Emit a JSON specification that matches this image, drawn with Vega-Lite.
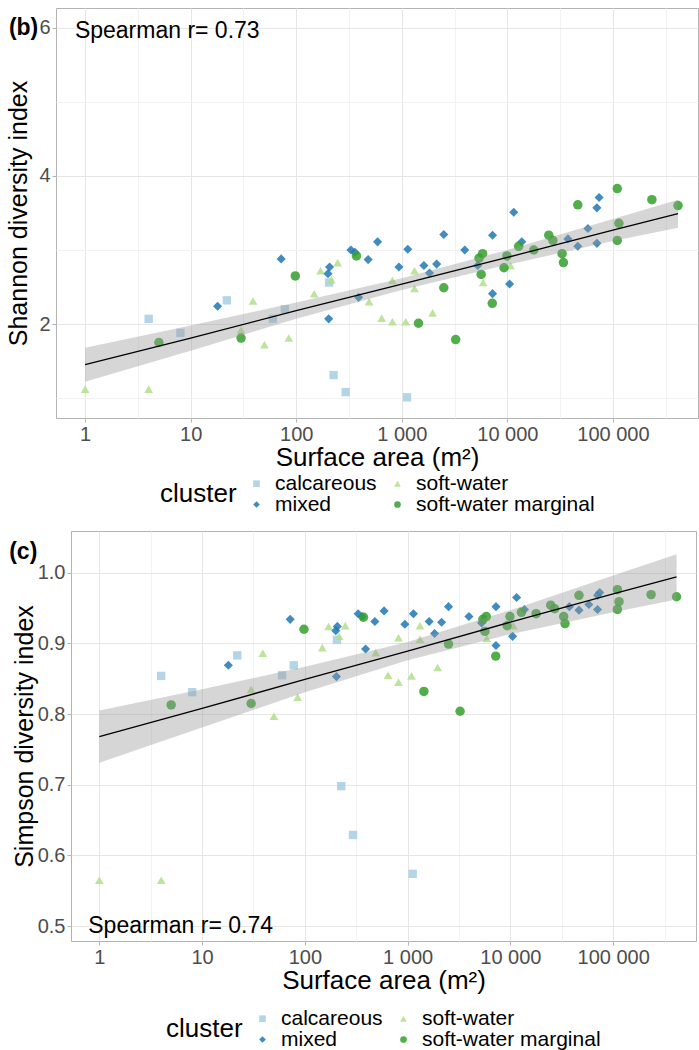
{
  "$schema": "https://vega.github.io/schema/vega-lite/v6.json",
  "background": "white",
  "padding": {"left": 5, "top": 7, "right": 0, "bottom": 0},
  "config": {
    "font": "Liberation Sans",
    "view": {"stroke": "#b3b3b3", "strokeWidth": 1},
    "axis": {"domain": false, "labelFontSize": 20, "labelColor": "#4d4d4d", "titleFontSize": 25, "titleFontWeight": "normal", "titleColor": "black", "tickColor": "#b3b3b3", "tickSize": 4, "labelPadding": 2, "gridWidth": 1},
    "legend": {"orient": "bottom", "direction": "horizontal", "columns": 2, "titleOrient": "left", "titleFontSize": 26, "titleFontWeight": "normal", "titleColor": "black", "labelFontSize": 21, "labelColor": "black", "labelLimit": 0, "symbolSize": 45, "rowPadding": -6, "columnPadding": 10, "titlePadding": 9, "labelOffset": 8, "symbolStrokeWidth": 0, "titleAnchor": "middle", "titleBaseline": "middle", "offset": 3, "layout": {"bottom": {"anchor": "middle"}}}
  },
  "datasets": {
    "lakes": [
      {"area": 4, "cluster": "calcareous", "shannon": 2.07, "simpson": 0.854},
      {"area": 8, "cluster": "calcareous", "shannon": 1.88, "simpson": 0.831},
      {"area": 22, "cluster": "calcareous", "shannon": 2.32, "simpson": 0.883},
      {"area": 60, "cluster": "calcareous", "shannon": 2.07, "simpson": 0.855},
      {"area": 78, "cluster": "calcareous", "shannon": 2.2, "simpson": 0.869},
      {"area": 205, "cluster": "calcareous", "shannon": 2.56, "simpson": 0.905},
      {"area": 226, "cluster": "calcareous", "shannon": 1.31, "simpson": 0.698},
      {"area": 294, "cluster": "calcareous", "shannon": 1.08, "simpson": 0.629},
      {"area": 1120, "cluster": "calcareous", "shannon": 1.01, "simpson": 0.574},
      {"area": 1, "cluster": "soft-water", "shannon": 1.12, "simpson": 0.565},
      {"area": 4, "cluster": "soft-water", "shannon": 1.12, "simpson": 0.565},
      {"area": 30, "cluster": "soft-water", "shannon": 1.92, "simpson": 0.835},
      {"area": 39, "cluster": "soft-water", "shannon": 2.31, "simpson": 0.886},
      {"area": 50, "cluster": "soft-water", "shannon": 1.72, "simpson": 0.797},
      {"area": 85, "cluster": "soft-water", "shannon": 1.81, "simpson": 0.824},
      {"area": 148, "cluster": "soft-water", "shannon": 2.41, "simpson": 0.894},
      {"area": 170, "cluster": "soft-water", "shannon": 2.72, "simpson": 0.924},
      {"area": 215, "cluster": "soft-water", "shannon": 2.6, "simpson": 0.91},
      {"area": 247, "cluster": "soft-water", "shannon": 2.83, "simpson": 0.925},
      {"area": 490, "cluster": "soft-water", "shannon": 2.3, "simpson": 0.887},
      {"area": 645, "cluster": "soft-water", "shannon": 2.08, "simpson": 0.855},
      {"area": 815, "cluster": "soft-water", "shannon": 2.03, "simpson": 0.845},
      {"area": 815, "cluster": "soft-water", "shannon": 2.59, "simpson": 0.908},
      {"area": 1090, "cluster": "soft-water", "shannon": 2.03, "simpson": 0.854},
      {"area": 1320, "cluster": "soft-water", "shannon": 2.72, "simpson": 0.925},
      {"area": 1320, "cluster": "soft-water", "shannon": 2.48, "simpson": 0.906},
      {"area": 1960, "cluster": "soft-water", "shannon": 2.15, "simpson": 0.866},
      {"area": 5900, "cluster": "soft-water", "shannon": 2.56, "simpson": 0.907},
      {"area": 10700, "cluster": "soft-water", "shannon": 2.79, "simpson": 0.925},
      {"area": 18, "cluster": "mixed", "shannon": 2.24, "simpson": 0.869},
      {"area": 72, "cluster": "mixed", "shannon": 2.88, "simpson": 0.934},
      {"area": 200, "cluster": "mixed", "shannon": 2.68, "simpson": 0.918},
      {"area": 207, "cluster": "mixed", "shannon": 2.77, "simpson": 0.924},
      {"area": 203, "cluster": "mixed", "shannon": 2.07, "simpson": 0.853},
      {"area": 330, "cluster": "mixed", "shannon": 3.0, "simpson": 0.942},
      {"area": 360, "cluster": "mixed", "shannon": 2.97, "simpson": 0.938},
      {"area": 390, "cluster": "mixed", "shannon": 2.36, "simpson": 0.892},
      {"area": 480, "cluster": "mixed", "shannon": 2.87, "simpson": 0.931},
      {"area": 590, "cluster": "mixed", "shannon": 3.11, "simpson": 0.946},
      {"area": 940, "cluster": "mixed", "shannon": 2.77, "simpson": 0.927},
      {"area": 1140, "cluster": "mixed", "shannon": 3.01, "simpson": 0.942},
      {"area": 1620, "cluster": "mixed", "shannon": 2.79, "simpson": 0.931},
      {"area": 1830, "cluster": "mixed", "shannon": 2.69, "simpson": 0.914},
      {"area": 2140, "cluster": "mixed", "shannon": 2.81, "simpson": 0.93},
      {"area": 2500, "cluster": "mixed", "shannon": 3.21, "simpson": 0.952},
      {"area": 3950, "cluster": "mixed", "shannon": 3.0, "simpson": 0.938},
      {"area": 5240, "cluster": "mixed", "shannon": 2.79, "simpson": 0.929},
      {"area": 7240, "cluster": "mixed", "shannon": 3.2, "simpson": 0.952},
      {"area": 7240, "cluster": "mixed", "shannon": 2.41, "simpson": 0.897},
      {"area": 10500, "cluster": "mixed", "shannon": 2.54, "simpson": 0.91},
      {"area": 11500, "cluster": "mixed", "shannon": 3.51, "simpson": 0.965},
      {"area": 13700, "cluster": "mixed", "shannon": 3.11, "simpson": 0.948},
      {"area": 37500, "cluster": "mixed", "shannon": 3.15, "simpson": 0.952},
      {"area": 46500, "cluster": "mixed", "shannon": 3.05, "simpson": 0.947},
      {"area": 58000, "cluster": "mixed", "shannon": 3.29, "simpson": 0.955},
      {"area": 70500, "cluster": "mixed", "shannon": 3.09, "simpson": 0.948},
      {"area": 70500, "cluster": "mixed", "shannon": 3.57, "simpson": 0.968},
      {"area": 74000, "cluster": "mixed", "shannon": 3.71, "simpson": 0.972},
      {"area": 5, "cluster": "soft-water marginal", "shannon": 1.75, "simpson": 0.813},
      {"area": 30, "cluster": "soft-water marginal", "shannon": 1.81, "simpson": 0.815},
      {"area": 98, "cluster": "soft-water marginal", "shannon": 2.65, "simpson": 0.92},
      {"area": 372, "cluster": "soft-water marginal", "shannon": 2.92, "simpson": 0.937},
      {"area": 1440, "cluster": "soft-water marginal", "shannon": 2.01, "simpson": 0.832},
      {"area": 2500, "cluster": "soft-water marginal", "shannon": 2.49, "simpson": 0.899},
      {"area": 3240, "cluster": "soft-water marginal", "shannon": 1.79, "simpson": 0.804},
      {"area": 5400, "cluster": "soft-water marginal", "shannon": 2.89, "simpson": 0.934},
      {"area": 5830, "cluster": "soft-water marginal", "shannon": 2.95, "simpson": 0.938},
      {"area": 5650, "cluster": "soft-water marginal", "shannon": 2.67, "simpson": 0.917},
      {"area": 7200, "cluster": "soft-water marginal", "shannon": 2.28, "simpson": 0.882},
      {"area": 9300, "cluster": "soft-water marginal", "shannon": 2.76, "simpson": 0.925},
      {"area": 9900, "cluster": "soft-water marginal", "shannon": 2.92, "simpson": 0.938},
      {"area": 12800, "cluster": "soft-water marginal", "shannon": 3.05, "simpson": 0.944},
      {"area": 17800, "cluster": "soft-water marginal", "shannon": 3.0, "simpson": 0.942},
      {"area": 24700, "cluster": "soft-water marginal", "shannon": 3.2, "simpson": 0.954},
      {"area": 27000, "cluster": "soft-water marginal", "shannon": 3.13, "simpson": 0.949},
      {"area": 33000, "cluster": "soft-water marginal", "shannon": 2.95, "simpson": 0.938},
      {"area": 34000, "cluster": "soft-water marginal", "shannon": 2.83, "simpson": 0.928},
      {"area": 46500, "cluster": "soft-water marginal", "shannon": 3.61, "simpson": 0.968},
      {"area": 110000, "cluster": "soft-water marginal", "shannon": 3.83, "simpson": 0.976},
      {"area": 114000, "cluster": "soft-water marginal", "shannon": 3.36, "simpson": 0.959},
      {"area": 110000, "cluster": "soft-water marginal", "shannon": 3.13, "simpson": 0.948},
      {"area": 234000, "cluster": "soft-water marginal", "shannon": 3.68, "simpson": 0.969},
      {"area": 414000, "cluster": "soft-water marginal", "shannon": 3.6, "simpson": 0.966}
    ],
    "fitb": [
      {"area": 1, "fit": 1.45, "lo": 1.22, "hi": 1.68},
      {"area": 10, "fit": 1.81, "lo": 1.64, "hi": 1.98},
      {"area": 100, "fit": 2.18, "lo": 2.07, "hi": 2.29},
      {"area": 1000, "fit": 2.54, "lo": 2.46, "hi": 2.62},
      {"area": 10000, "fit": 2.9, "lo": 2.8, "hi": 3.0},
      {"area": 100000, "fit": 3.27, "lo": 3.12, "hi": 3.42},
      {"area": 414000, "fit": 3.49, "lo": 3.3, "hi": 3.68}
    ],
    "fitc": [
      {"area": 1, "fit": 0.768, "lo": 0.731, "hi": 0.805},
      {"area": 10, "fit": 0.808, "lo": 0.781, "hi": 0.835},
      {"area": 100, "fit": 0.849, "lo": 0.831, "hi": 0.867},
      {"area": 1000, "fit": 0.889, "lo": 0.876, "hi": 0.902},
      {"area": 10000, "fit": 0.93, "lo": 0.913, "hi": 0.947},
      {"area": 100000, "fit": 0.97, "lo": 0.944, "hi": 0.996},
      {"area": 414000, "fit": 0.994, "lo": 0.962, "hi": 1.026}
    ]
  },
  "spacing": 14,
  "resolve": {"legend": {"color": "independent", "shape": "independent"}},
  "vconcat": [
    {
      "spacing": 0,
      "resolve": {"legend": {"color": "independent", "shape": "independent"}},
      "hconcat": [
        {"width": 1, "height": 1, "data": {"values": []}, "mark": {"type": "point", "opacity": 0}, "encoding": {}, "view": {"stroke": null}},
        {
          "width": 642,
          "height": 410,
          "title": {"text": "(b)", "anchor": "start", "frame": "bounds", "fontSize": 23, "fontWeight": "bold", "color": "black", "dx": 2, "dy": 32, "offset": 0},
          "layer": [
            {
              "data": {"name": "lakes"},
              "mark": {"type": "point", "filled": true, "opacity": 0.85, "strokeWidth": 0},
              "encoding": {
                "x": {"field": "area", "type": "quantitative", "title": "Surface area (m²)",
                  "scale": {"type": "log", "domain": [0.53, 640000], "nice": false},
                  "axis": {"values": [1, 3.1623, 10, 31.623, 100, 316.23, 1000, 3162.3, 10000, 31623, 100000, 316228],
                    "labelExpr": "abs(log(datum.value)/LN10 - round(log(datum.value)/LN10)) < 0.01 ? replace(format(datum.value, ',d'), regexp(',', 'g'), ' ') : ''",
                    "gridColor": {"condition": {"test": "abs(log(datum.value)/LN10 - round(log(datum.value)/LN10)) < 0.01", "value": "#e6e6e6"}, "value": "#f2f2f2"},
                    "tickOpacity": {"condition": {"test": "abs(log(datum.value)/LN10 - round(log(datum.value)/LN10)) < 0.01", "value": 1}, "value": 0},
                    "titleFontSize": 26, "titlePadding": 0}},
                "y": {"field": "shannon", "type": "quantitative", "title": "Shannon diversity index",
                  "scale": {"domain": [0.73, 6.27], "nice": false, "zero": false},
                  "axis": {"values": [1, 2, 3, 4, 5, 6],
                    "labelExpr": "datum.value % 2 == 0 ? format(datum.value, 'd') : ''",
                    "gridColor": {"condition": {"test": "datum.value % 2 == 0", "value": "#e6e6e6"}, "value": "#f2f2f2"},
                    "tickOpacity": {"condition": {"test": "datum.value % 2 == 0", "value": 1}, "value": 0},
                    "titlePadding": 7}},
                "color": {"field": "cluster", "type": "nominal", "title": "cluster",
                  "scale": {"domain": ["calcareous", "soft-water", "mixed", "soft-water marginal"], "range": ["#a6cee3", "#b2df8a", "#1f78b4", "#33a02c"]}},
                "shape": {"field": "cluster", "type": "nominal", "title": "cluster",
                  "scale": {"domain": ["calcareous", "soft-water", "mixed", "soft-water marginal"], "range": ["square", "triangle-up", "diamond", "circle"]}},
                "size": {"field": "cluster", "type": "nominal", "legend": null,
                  "scale": {"domain": ["calcareous", "soft-water", "mixed", "soft-water marginal"], "range": [70, 90, 55, 85]}}
              }
            },
            {
              "data": {"name": "fitb"},
              "mark": {"type": "area", "color": "#999999", "opacity": 0.4},
              "encoding": {
                "x": {"field": "area", "type": "quantitative"},
                "y": {"field": "lo", "type": "quantitative"},
                "y2": {"field": "hi"}
              }
            },
            {
              "data": {"name": "fitb"},
              "mark": {"type": "line", "color": "black", "strokeWidth": 1.3},
              "encoding": {
                "x": {"field": "area", "type": "quantitative"},
                "y": {"field": "fit", "type": "quantitative"}
              }
            },
            {
              "data": {"values": [{"area": 0.8, "value": 5.96, "label": "Spearman r= 0.73"}]},
              "mark": {"type": "text", "align": "left", "baseline": "middle", "fontSize": 23, "color": "black"},
              "encoding": {
                "x": {"field": "area", "type": "quantitative"},
                "y": {"field": "value", "type": "quantitative"},
                "text": {"field": "label"}
              }
            }
          ]
        }
      ]
    },
    {
      "spacing": 0,
      "resolve": {"legend": {"color": "independent", "shape": "independent"}},
      "hconcat": [
        {"width": 3, "height": 1, "data": {"values": []}, "mark": {"type": "point", "opacity": 0}, "encoding": {}, "view": {"stroke": null}},
        {
          "width": 625,
          "height": 410,
          "title": {"text": "(c)", "anchor": "start", "frame": "bounds", "fontSize": 23, "fontWeight": "bold", "color": "black", "dx": -3, "dy": 33, "offset": 0},
          "layer": [
            {
              "data": {"name": "lakes"},
              "mark": {"type": "point", "filled": true, "opacity": 0.85, "strokeWidth": 0},
              "encoding": {
                "x": {"field": "area", "type": "quantitative", "title": "Surface area (m²)",
                  "scale": {"type": "log", "domain": [0.53, 640000], "nice": false},
                  "axis": {"values": [1, 3.1623, 10, 31.623, 100, 316.23, 1000, 3162.3, 10000, 31623, 100000, 316228],
                    "labelExpr": "abs(log(datum.value)/LN10 - round(log(datum.value)/LN10)) < 0.01 ? replace(format(datum.value, ',d'), regexp(',', 'g'), ' ') : ''",
                    "gridColor": {"condition": {"test": "abs(log(datum.value)/LN10 - round(log(datum.value)/LN10)) < 0.01", "value": "#e6e6e6"}, "value": "#f2f2f2"},
                    "tickOpacity": {"condition": {"test": "abs(log(datum.value)/LN10 - round(log(datum.value)/LN10)) < 0.01", "value": 1}, "value": 0},
                    "titleFontSize": 26, "titlePadding": 0}},
                "y": {"field": "simpson", "type": "quantitative", "title": "Simpson diversity index",
                  "scale": {"domain": [0.479, 1.059], "nice": false, "zero": false},
                  "axis": {"values": [0.5, 0.55, 0.6, 0.65, 0.7, 0.75, 0.8, 0.85, 0.9, 0.95, 1.0, 1.05],
                    "labelExpr": "abs(datum.value*10 - round(datum.value*10)) < 0.01 ? format(datum.value, '.1f') : ''",
                    "gridColor": {"condition": {"test": "abs(datum.value*10 - round(datum.value*10)) < 0.01", "value": "#e6e6e6"}, "value": "#f2f2f2"},
                    "tickOpacity": {"condition": {"test": "abs(datum.value*10 - round(datum.value*10)) < 0.01", "value": 1}, "value": 0},
                    "titlePadding": 0}},
                "color": {"field": "cluster", "type": "nominal", "title": "cluster",
                  "scale": {"domain": ["calcareous", "soft-water", "mixed", "soft-water marginal"], "range": ["#a6cee3", "#b2df8a", "#1f78b4", "#33a02c"]},
                  "legend": {"offset": 15}},
                "shape": {"field": "cluster", "type": "nominal", "title": "cluster",
                  "scale": {"domain": ["calcareous", "soft-water", "mixed", "soft-water marginal"], "range": ["square", "triangle-up", "diamond", "circle"]},
                  "legend": {"offset": 15}},
                "size": {"field": "cluster", "type": "nominal", "legend": null,
                  "scale": {"domain": ["calcareous", "soft-water", "mixed", "soft-water marginal"], "range": [70, 90, 55, 85]}}
              }
            },
            {
              "data": {"name": "fitc"},
              "mark": {"type": "area", "color": "#999999", "opacity": 0.4},
              "encoding": {
                "x": {"field": "area", "type": "quantitative"},
                "y": {"field": "lo", "type": "quantitative"},
                "y2": {"field": "hi"}
              }
            },
            {
              "data": {"name": "fitc"},
              "mark": {"type": "line", "color": "black", "strokeWidth": 1.3},
              "encoding": {
                "x": {"field": "area", "type": "quantitative"},
                "y": {"field": "fit", "type": "quantitative"}
              }
            },
            {
              "data": {"values": [{"area": 0.78, "value": 0.5, "label": "Spearman r= 0.74"}]},
              "mark": {"type": "text", "align": "left", "baseline": "middle", "fontSize": 23, "color": "black"},
              "encoding": {
                "x": {"field": "area", "type": "quantitative"},
                "y": {"field": "value", "type": "quantitative"},
                "text": {"field": "label"}
              }
            }
          ]
        }
      ]
    }
  ]
}
